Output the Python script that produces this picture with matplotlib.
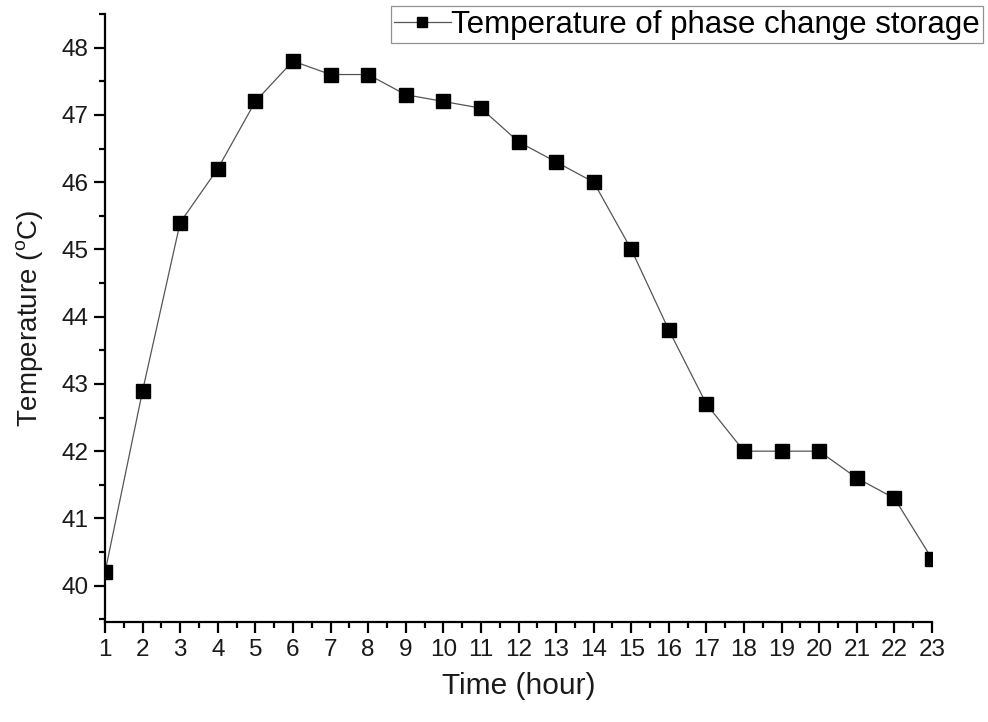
import matplotlib
matplotlib.use("Agg")
import matplotlib.pyplot as plt
from matplotlib.ticker import MultipleLocator

plt.rcParams['font.family'] = ['Liberation Sans', 'DejaVu Sans']

hours = list(range(1, 24))
temps = [40.2, 42.9, 45.4, 46.2, 47.2, 47.8, 47.6, 47.6, 47.3, 47.2, 47.1, 46.6,
         46.3, 46.0, 45.0, 43.8, 42.7, 42.0, 42.0, 42.0, 41.6, 41.3, 40.4]

fig = plt.figure(figsize=(9.88, 7.22), dpi=100)
ax = fig.add_axes([0.1063, 0.1385, 0.8370, 0.8421])

line, = ax.plot(hours, temps, color="#555555", linewidth=0.9, marker="s",
                markersize=9.5, markerfacecolor="black", markeredgecolor="black",
                label="Temperature of phase change storage")

ax.set_xlim(1, 23)
ax.set_ylim(39.46, 48.5)
ax.xaxis.set_major_locator(MultipleLocator(1))
ax.xaxis.set_minor_locator(MultipleLocator(0.5))
ax.yaxis.set_major_locator(MultipleLocator(1))
ax.yaxis.set_minor_locator(MultipleLocator(0.5))

for s in ["top", "right"]:
    ax.spines[s].set_visible(False)
for s in ["left", "bottom"]:
    ax.spines[s].set_linewidth(1.6)

ax.tick_params(which="major", direction="out", length=8, width=1.6, labelsize=17.5,
               pad=4, labelcolor="#1a1a1a")
ax.tick_params(which="minor", direction="out", length=4, width=1.6)

ax.set_xlabel("Time (hour)", fontsize=21.5, labelpad=8, color="#1a1a1a")
ax.set_ylabel(r"Temperature ($\mathregular{^o}$C)", fontsize=20, labelpad=12, color="#1a1a1a")

leg = fig.legend(handles=[line], loc="upper right", bbox_to_anchor=(0.995, 0.992),
                 fontsize=22.5, frameon=True, fancybox=False, borderpad=0.12,
                 handlelength=1.8, handletextpad=0.0, borderaxespad=0, markerscale=0.75)
leg.get_frame().set_edgecolor("#777777")
leg.get_frame().set_linewidth(0.9)

fig.savefig("out.png", dpi=100)
